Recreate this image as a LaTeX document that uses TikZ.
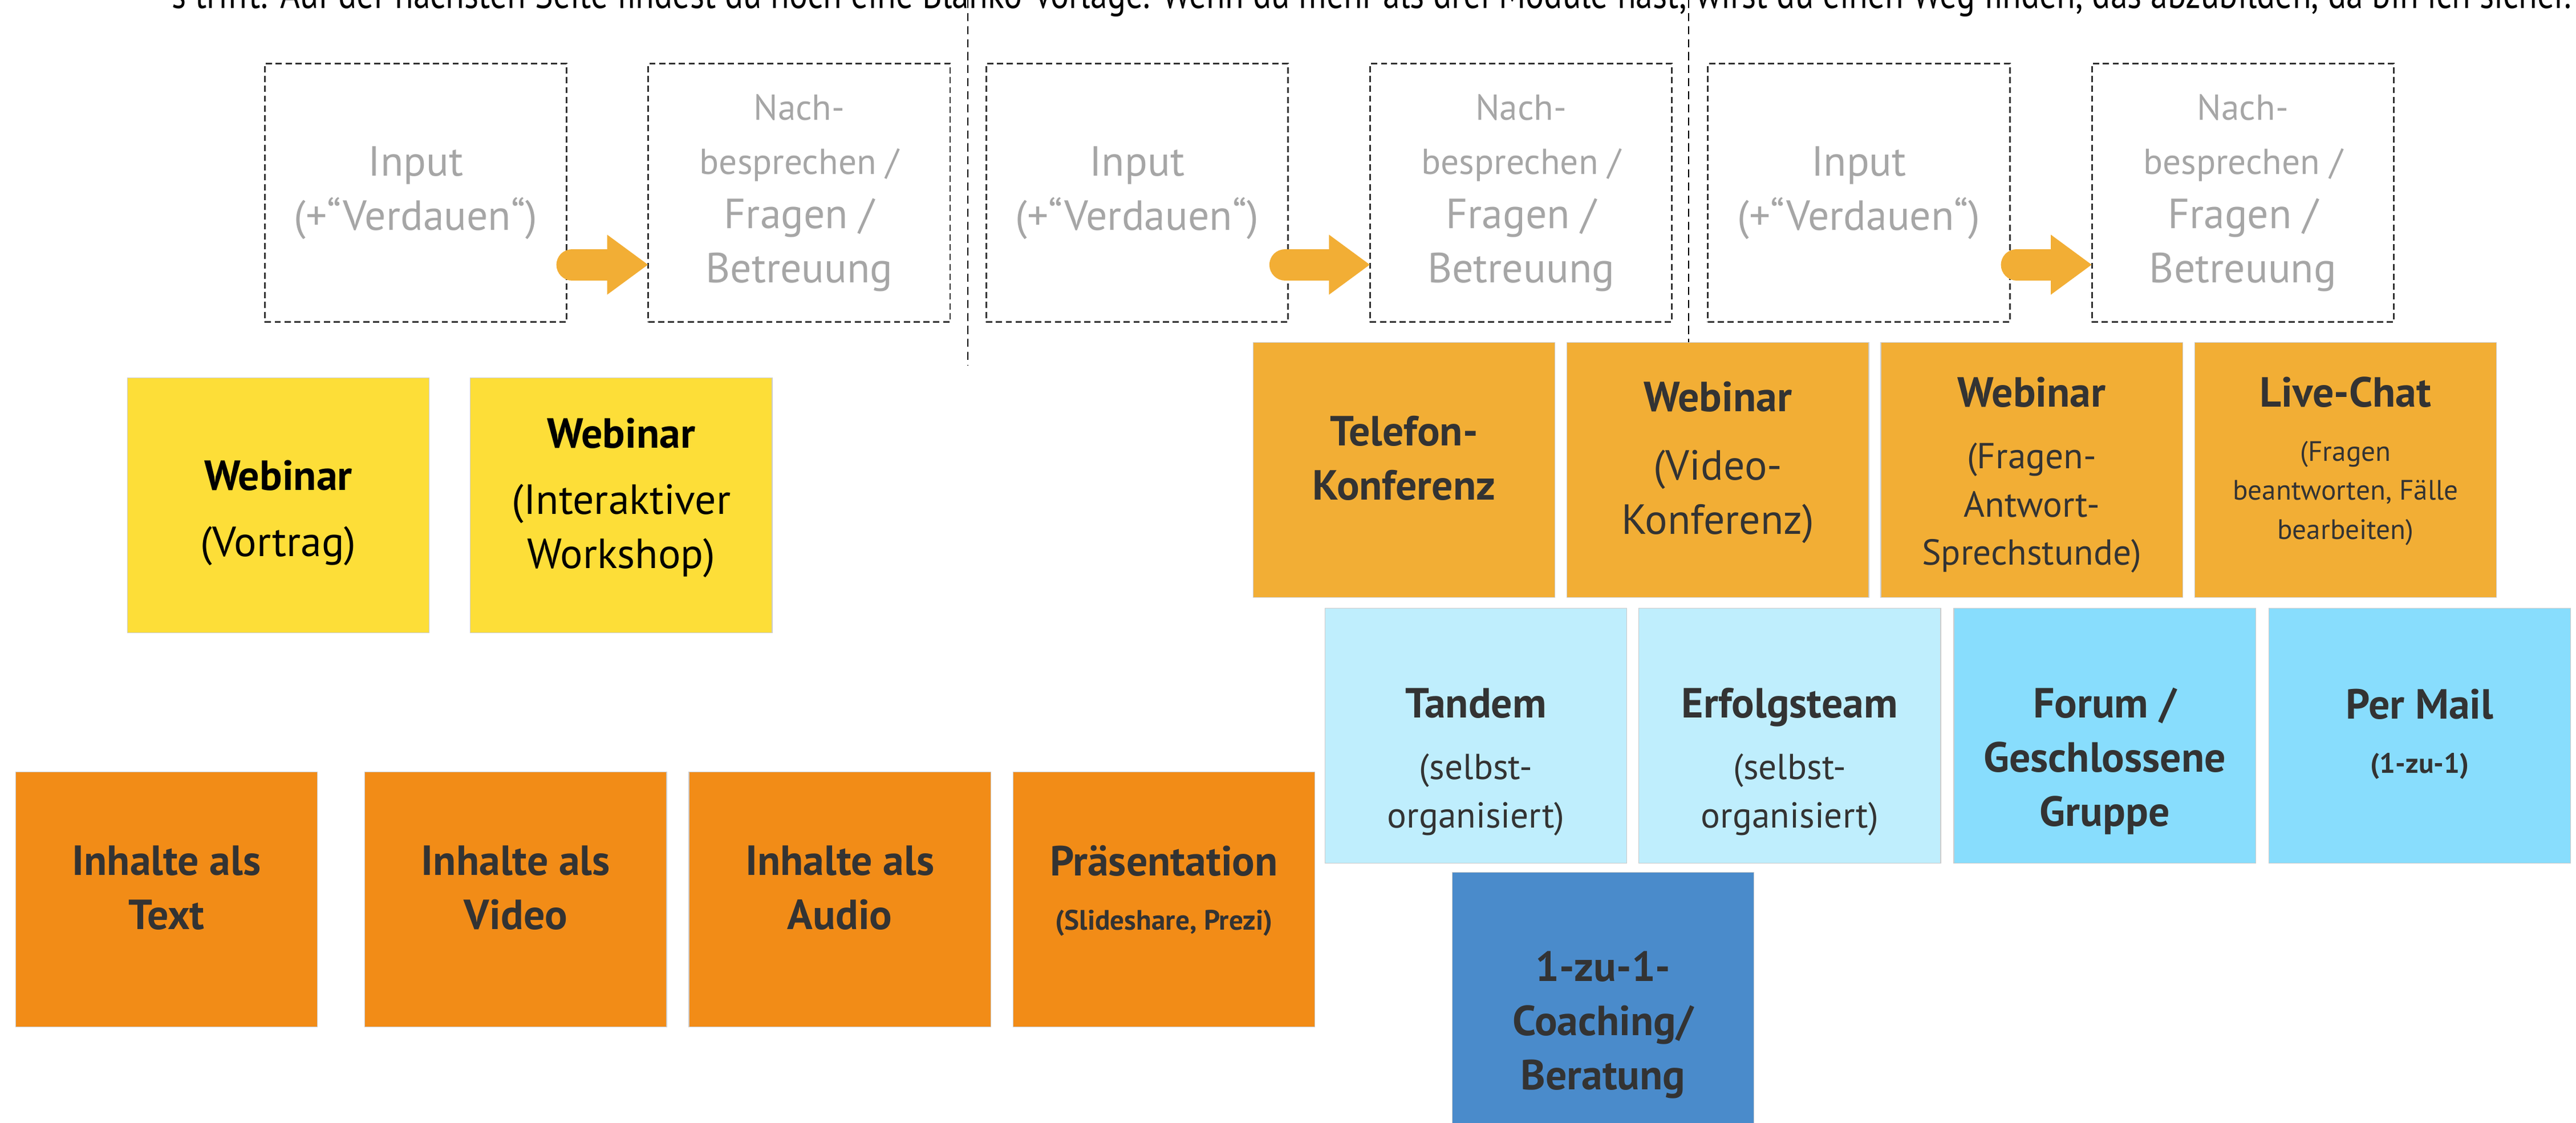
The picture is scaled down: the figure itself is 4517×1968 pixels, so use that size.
\documentclass[tikz,border=0pt]{standalone}
\usepackage{fontspec}
\setmainfont{PT Sans}
\newfontfamily\introfont[FakeStretch=0.85]{PT Sans}
\usetikzlibrary{positioning,arrows.meta}
\definecolor{planline}{HTML}{333333}
\definecolor{plantext}{HTML}{A6A6A6}
\definecolor{cardtext}{HTML}{333333}
\definecolor{sun}{HTML}{FDDE38}
\definecolor{amber}{HTML}{F2AE35}
\definecolor{tangerine}{HTML}{F28C17}
\definecolor{ice}{HTML}{BFEEFD}
\definecolor{sky}{HTML}{88DDFD}
\definecolor{ocean}{HTML}{4A8BCB}
\newcommand{\cardsize}{\fontsize{21pt}{27pt}\selectfont}
\newcommand{\midsize}{\fontsize{18pt}{24pt}\selectfont}
\newcommand{\notesize}{\fontsize{14pt}{19.5pt}\selectfont}
\newcommand{\plansmall}{\fontsize{18pt}{27pt}\selectfont}
\newcommand{\padtop}[1]{\rule{0pt}{#1}}
\begin{document}
\begin{tikzpicture}[x=0.01cm, y=-0.01cm,
    plan/.style={draw=planline, line width=0.8pt, dash pattern=on 3.1pt off 1.8pt,
        minimum width=5.29cm, minimum height=4.53cm, outer sep=0pt, inner sep=0pt,
        align=center, text=plantext, font=\cardsize},
    card/.style={draw=black!20, line width=0.4pt, minimum width=5.29cm,
        minimum height=4.47cm, outer sep=0pt, inner sep=0pt, align=center,
        text=cardtext, font=\cardsize, execute at end node={\rule[-12pt]{0pt}{0pt}}},
    flow/.style={amber, line width=0.55cm, line cap=round,
        -{Triangle[length=0.72cm, width=1cm]}},
    divider/.style={line width=0.7pt, dash pattern=on 4pt off 2.5pt}]
    \useasboundingbox (0,0) rectangle (4517,1968);
    \node[anchor=base east, inner sep=0pt, font=\introfont\fontsize{20pt}{24pt}\selectfont] (intro) at (4510,14)
        {s trifft. Auf der nächsten Seite findest du noch eine Blanko-Vorlage. Wenn du mehr als drei Module hast, wirst du einen Weg finden, das abzubilden, da bin ich sicher.};
    \node[plan] (in1) at (729,338) {Input\\(+“Verdauen“)};
    \node[plan, right=1.43cm of in1] (nach1) {\plansmall Nach-\\\plansmall besprechen /\\Fragen /\\Betreuung};
    \node[plan, right=0.63cm of nach1] (in2) {Input\\(+“Verdauen“)};
    \node[plan, right=1.44cm of in2] (nach2) {\plansmall Nach-\\\plansmall besprechen /\\Fragen /\\Betreuung};
    \node[plan, right=0.63cm of nach2] (in3) {Input\\(+“Verdauen“)};
    \node[plan, right=1.44cm of in3] (nach3) {\plansmall Nach-\\\plansmall besprechen /\\Fragen /\\Betreuung};
    \draw[flow] ([xshift=0.095cm, yshift=-1.26cm]in1.east) -- ([yshift=-1.26cm]nach1.west);
    \draw[flow] ([xshift=-0.05cm, yshift=-1.26cm]in2.east) -- ([yshift=-1.26cm]nach2.west);
    \draw[flow] ([xshift=0.12cm, yshift=-1.26cm]in3.east) -- ([yshift=-1.26cm]nach3.west);
    \coordinate (cut1top) at (1697,0);
    \coordinate (cut1end) at (1697,641);
    \coordinate (cut2top) at (2961,0);
    \coordinate (cut2end) at (2961,601);
    \draw[divider] (cut1top) -- (cut1end);
    \draw[divider] (cut2top) -- (cut2end);
    \node[card, fill=sun, text=black] (vortrag) at (488,886) {\padtop{30pt}\bfseries Webinar\\[6pt](Vortrag)};
    \node[card, fill=sun, text=black, right=0.72cm of vortrag] (workshop) {\bfseries Webinar\\[6pt](Interaktiver\\Workshop)};
    \node[card, fill=tangerine, font=\cardsize\bfseries] (astext) at (292,1577) {Inhalte als\\Text};
    \node[card, fill=tangerine, font=\cardsize\bfseries, right=0.83cm of astext] (asvideo) {Inhalte als\\Video};
    \node[card, fill=tangerine, font=\cardsize\bfseries, right=0.39cm of asvideo] (asaudio) {Inhalte als\\Audio};
    \node[card, fill=tangerine, font=\cardsize\bfseries, right=0.39cm of asaudio] (slides) {Präsentation\\\notesize\bfseries (Slideshare, Prezi)};
    \node[card, fill=amber, font=\cardsize\bfseries] (phone) at (2462,824) {Telefon-\\Konferenz};
    \node[card, fill=amber, right=0.21cm of phone] (webvideo) {\bfseries Webinar\\[7pt](Video-\\Konferenz)};
    \node[card, fill=amber, font=\midsize, right=0.21cm of webvideo] (webqa) {\padtop{28pt}\cardsize\bfseries Webinar\\[6.7pt](Fragen-\\Antwort-\\Sprechstunde)};
    \node[card, fill=amber, font=\notesize, right=0.21cm of webqa] (chat) {\cardsize\bfseries Live-Chat\\[7.5pt](Fragen\\beantworten, Fälle\\bearbeiten)};
    \node[card, fill=ice, font=\midsize] (tandem) at (2588,1290) {\padtop{49pt}\cardsize\bfseries Tandem\\[6.7pt](selbst-\\organisiert)};
    \node[card, fill=ice, font=\midsize, right=0.21cm of tandem] (team) {\padtop{49pt}\cardsize\bfseries Erfolgsteam\\[6.7pt](selbst-\\organisiert)};
    \node[card, fill=sky, font=\cardsize\bfseries, right=0.23cm of team] (forum) {\padtop{48pt}Forum /\\Geschlossene\\Gruppe};
    \node[card, fill=sky, font=\cardsize\bfseries, right=0.23cm of forum] (mail) {\padtop{22pt}Per Mail\\\notesize\bfseries (1-zu-1)};
    \node[card, fill=ocean, font=\cardsize\bfseries] (coach) at (2811,1753) {\padtop{47.5pt}1-zu-1-\\Coaching/\\Beratung};
\end{tikzpicture}
\end{document}
